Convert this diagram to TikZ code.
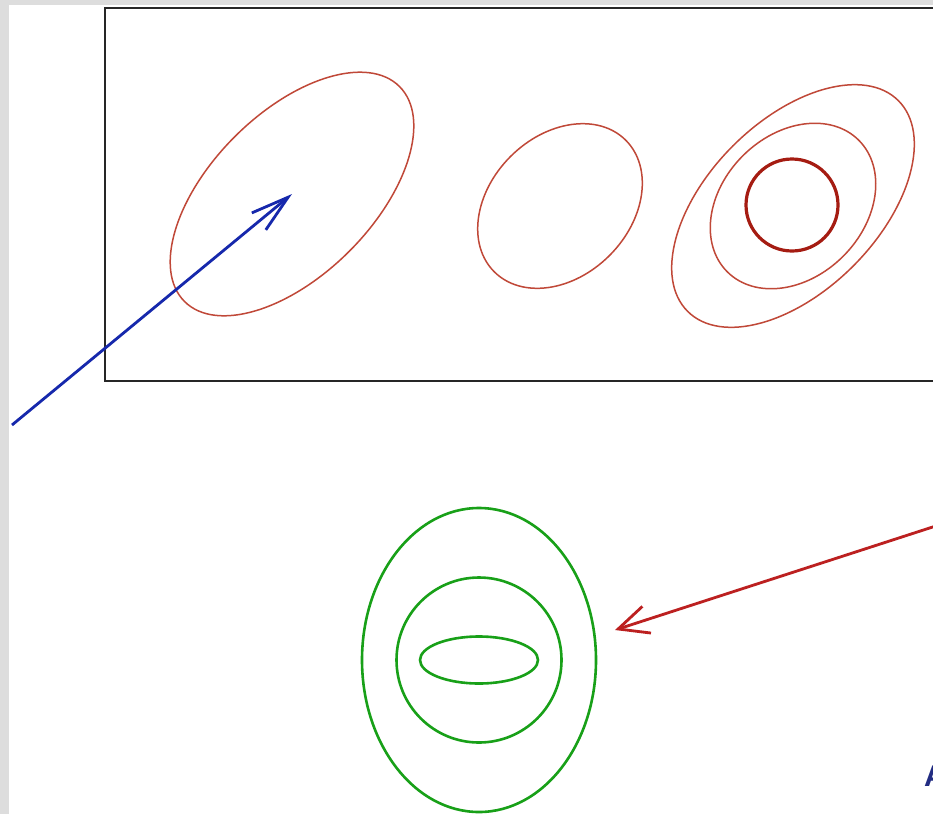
\documentclass[tikz,border=0pt]{standalone}
\usepackage{fontspec}
\setmainfont{Liberation Sans}
\usetikzlibrary{shapes.geometric,arrows.meta}
\definecolor{bggray}{RGB}{221,221,221}
\definecolor{ellred}{RGB}{192,72,56}
\definecolor{darkred}{RGB}{165,28,18}
\definecolor{arrred}{RGB}{188,32,32}
\definecolor{arrblue}{RGB}{22,40,172}
\definecolor{grn}{RGB}{24,160,24}
\definecolor{navy}{RGB}{34,44,130}
\tikzset{
  redell/.style={ellipse, draw=ellred, line width=1.5pt, inner sep=0pt},
  grnell/.style={ellipse, draw=grn, line width=2.6pt, inner sep=0pt},
  bluearrow/.style={draw=arrblue, line width=2.8pt, -{Straight Barb[length=38pt,width=22pt,line width=2.8pt]}},
  redarrow/.style={draw=arrred, line width=2.8pt, -{Straight Barb[length=30pt,width=28pt,line width=2.8pt]}},
}
\begin{document}
\begin{tikzpicture}[x=1pt,y=-1pt]
\useasboundingbox (0,0) rectangle (933,814);
\clip (0,0) rectangle (933,814);
\fill[bggray] (0,0) rectangle (933,814);
\fill[white] (9,5) rectangle (940,820);
% frame
\draw[line width=2pt, black!85] (105,8) rectangle (1000,381);
% red ellipses
\node[redell, rotate=45, minimum width=304pt, minimum height=162pt] (e1) at (292,194) {};
\node[redell, rotate=45, minimum width=186pt, minimum height=140pt] (e2) at (560,206) {};
\node[redell, rotate=45, minimum width=298pt, minimum height=170pt] (e3) at (793,206) {};
\node[redell, rotate=45, minimum width=186pt, minimum height=142pt] (e4) at (793,206) {};
\node[circle, draw=darkred, line width=3.2pt, inner sep=0pt, minimum size=92pt] (e5) at (792,205) {};
% green ellipses
\node[grnell, minimum width=234pt, minimum height=304pt] (g1) at (479,660) {};
\node[grnell, circle, minimum size=165pt] (g2) at (479,660) {};
\node[grnell, minimum width=118pt, minimum height=47pt] (g3) at (479,660) {};
% arrows
\coordinate (bstart) at (12,425);
\draw[bluearrow] (bstart) -- (e1.center);
\coordinate (rstart) at (945,523);
\coordinate (rtip) at (615,630);
\draw[redarrow] (rstart) -- (rtip);
% partial label
\node[anchor=base west, inner sep=0pt, text=navy, font=\bfseries\fontsize{30}{30}\selectfont] (lbl) at (924,786) {A};
\end{tikzpicture}
\end{document}
